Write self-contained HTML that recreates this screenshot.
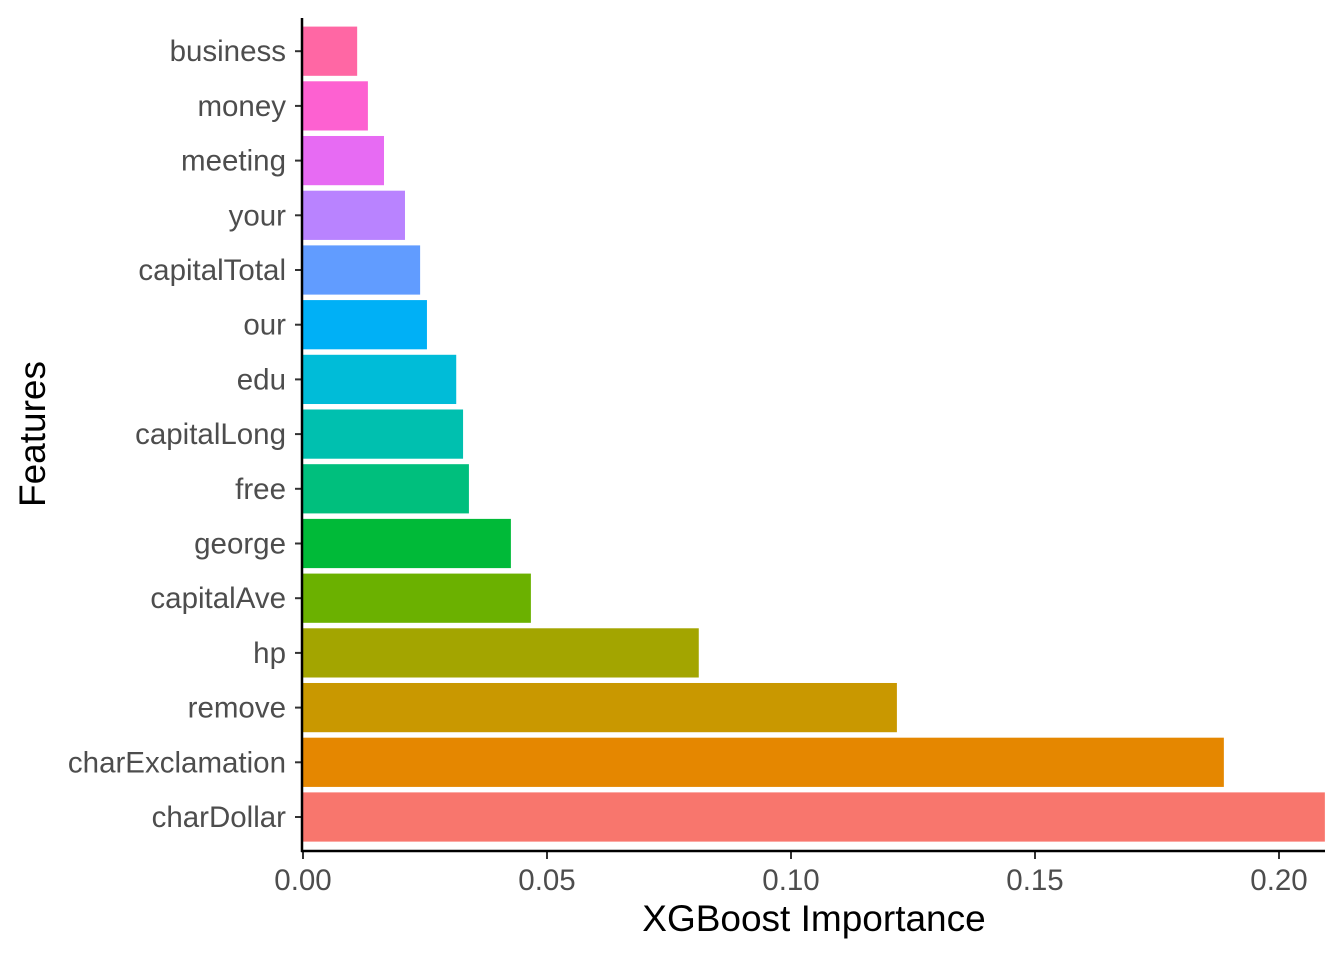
<!DOCTYPE html>
<html><head><meta charset="utf-8"><style>
body{margin:0;background:#fff;}
svg{display:block;font-family:"Liberation Sans",sans-serif;}
</style></head><body>
<svg id="chart" width="1344" height="960"></svg>
<script>
const categories=["charDollar","charExclamation","remove","hp","capitalAve","george","free","capitalLong","edu","our","capitalTotal","your","meeting","money","business"];
const values=[0.2094,0.1887,0.1217,0.0811,0.0467,0.0426,0.034,0.0328,0.0314,0.0254,0.024,0.0209,0.0166,0.0133,0.0111];
const colors=["#F8766D","#E58700","#C99800","#A3A500","#6BB100","#00BA38","#00BF7D","#00C0AF","#00BCD8","#00B0F6","#619CFF","#B983FF","#E76BF3","#FD61D1","#FF67A4"];
const xTicks=[0,0.05,0.10,0.15,0.20];
const xTickLabels=["0.00","0.05","0.10","0.15","0.20"];
const NS="http://www.w3.org/2000/svg";
const svg=document.getElementById('chart');
const x0=303,pxPerUnit=4880,plotTop=18,plotBottom=851,plotRight=1325;
const xScale=v=>x0+v*pxPerUnit;
const step=54.7;
const yCenter=i=>817-step*i;
const bh=step*0.9;
function el(t,a){const e=document.createElementNS(NS,t);for(const k in a)e.setAttribute(k,a[k]);svg.appendChild(e);return e;}
categories.forEach((c,i)=>{
  const r=el('rect',{x:x0,y:yCenter(i)-bh/2,width:xScale(values[i])-x0,height:bh,fill:colors[i]});
  
  
  const tk=el('line',{x1:x0-8,x2:x0,y1:yCenter(i),y2:yCenter(i),stroke:'#333','stroke-width':2});
  
  
  const t=el('text',{x:x0-17,y:yCenter(i)+10,'text-anchor':'end','font-size':29.5,fill:'#4D4D4D'});
  t.textContent=c;
  
  
});
xTicks.forEach((v,i)=>{
  const tk=el('line',{x1:xScale(v),x2:xScale(v),y1:plotBottom,y2:plotBottom+8,stroke:'#333','stroke-width':2});
  
  
  const t=el('text',{x:xScale(v),y:plotBottom+39,'text-anchor':'middle','font-size':29.5,fill:'#4D4D4D'});
  t.textContent=xTickLabels[i];
  
  
});
const ya=el('line',{x1:x0-1,x2:x0-1,y1:plotTop,y2:plotBottom+1,stroke:'#000','stroke-width':2.5});


const xa=el('line',{x1:x0-2,x2:plotRight,y1:plotBottom,y2:plotBottom,stroke:'#000','stroke-width':2.5});


const xt=el('text',{x:(x0+plotRight)/2,y:931,'text-anchor':'middle','font-size':37,fill:'#000'});
xt.textContent='XGBoost Importance';


const yt=el('text',{x:0,y:0,'text-anchor':'middle','font-size':37,fill:'#000',transform:'translate(45,434) rotate(-90)'});
yt.textContent='Features';


</script>
</body></html>
